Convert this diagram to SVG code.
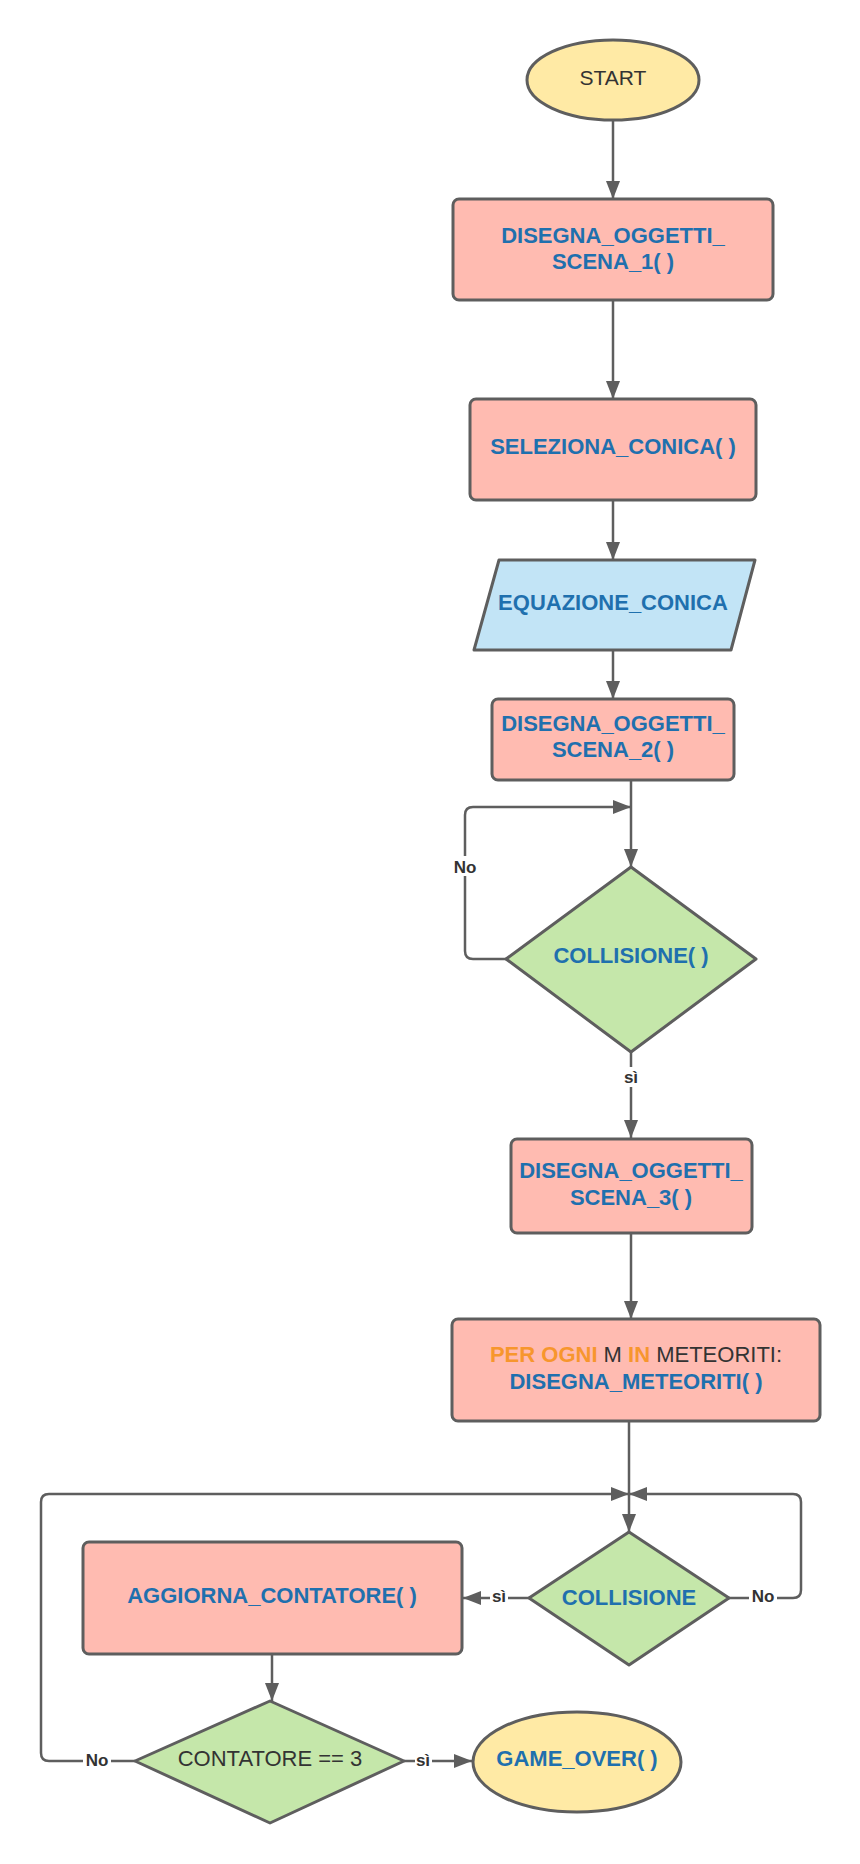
<svg xmlns="http://www.w3.org/2000/svg" width="860" height="1864" viewBox="0 0 860 1864">
<defs>
<style>
.shape{stroke:#5e5e5e;stroke-width:3;stroke-linejoin:round}
.pink{fill:#ffbbb1}
.yellow{fill:#ffeaa5}
.green{fill:#c5e7aa}
.blue{fill:#c2e4f6}
.t{font-family:"Liberation Sans",Arial,sans-serif;font-size:22px;text-anchor:middle}
.b{font-weight:bold;fill:#1f70ae}
.d{fill:#333333}
.o{font-weight:bold;fill:#f7962d}
.conn path{fill:none;stroke:#5e5e5e;stroke-width:2.5}
.lbl{font-family:"Liberation Sans",Arial,sans-serif;font-size:17px;font-weight:bold;fill:#333333;text-anchor:middle}
.lb{fill:#ffffff}
</style>
<marker id="ah" markerUnits="userSpaceOnUse" markerWidth="20" markerHeight="14" viewBox="0 0 20 14" refX="18" refY="7" orient="auto">
<path d="M0,0 L18,7 L0,14 Z" fill="#5e5e5e"/>
</marker>
</defs>
<rect width="860" height="1864" fill="#ffffff"/>

<g id="connectors" class="conn">
<path d="M613,120 V199" marker-end="url(#ah)"/>
<path d="M613,300 V399" marker-end="url(#ah)"/>
<path d="M613,500 V560" marker-end="url(#ah)"/>
<path d="M613,650 V699" marker-end="url(#ah)"/>
<path d="M631,780 V867" marker-end="url(#ah)"/>
<path d="M506,959 H473 Q465,959 465,951 V815 Q465,807 473,807 H631" marker-end="url(#ah)"/>
<path d="M631,1052 V1138" marker-end="url(#ah)"/>
<path d="M631,1233 V1319" marker-end="url(#ah)"/>
<path d="M629,1421 V1532" marker-end="url(#ah)"/>
<path d="M729,1598 H793 Q801,1598 801,1590 V1502 Q801,1494 793,1494 H629" marker-end="url(#ah)"/>
<path d="M529,1598 H463" marker-end="url(#ah)"/>
<path d="M272,1654 V1701" marker-end="url(#ah)"/>
<path d="M135,1761 H49 Q41,1761 41,1753 V1502 Q41,1494 49,1494 H629" marker-end="url(#ah)"/>
<path d="M404,1761 H472" marker-end="url(#ah)"/>
<g id="labels">
<rect class="lb" x="451" y="856" width="28" height="20"/>
<text class="lbl" x="465" y="873">No</text>
<rect class="lb" x="621" y="1067" width="20" height="20"/>
<text class="lbl" x="631" y="1083">sì</text>
<rect class="lb" x="749" y="1587" width="28" height="20"/>
<text class="lbl" x="763" y="1602">No</text>
<rect class="lb" x="490" y="1587" width="18" height="20"/>
<text class="lbl" x="499" y="1602">sì</text>
<rect class="lb" x="83" y="1750" width="28" height="20"/>
<text class="lbl" x="97" y="1766">No</text>
<rect class="lb" x="415" y="1750" width="17" height="20"/>
<text class="lbl" x="423" y="1766">sì</text>
</g>
</g>

<g id="start">
<ellipse class="shape yellow" cx="613" cy="80" rx="86" ry="40"/>
<text class="t d" x="613" y="85" style="font-size:21px">START</text>
</g>

<g id="disegna1">
<rect class="shape pink" x="453" y="199" width="320" height="101" rx="6"/>
<text class="t b" x="613" y="243">DISEGNA_OGGETTI_</text>
<text class="t b" x="613" y="269">SCENA_1( )</text>
</g>

<g id="seleziona">
<rect class="shape pink" x="470" y="399" width="286" height="101" rx="6"/>
<text class="t b" x="613" y="454">SELEZIONA_CONICA( )</text>
</g>

<g id="equazione">
<path class="shape blue" d="M499,560 H755 L731,650 H474 Z"/>
<text class="t b" x="613" y="610">EQUAZIONE_CONICA</text>
</g>

<g id="disegna2">
<rect class="shape pink" x="492" y="699" width="242" height="81" rx="6"/>
<text class="t b" x="613" y="731">DISEGNA_OGGETTI_</text>
<text class="t b" x="613" y="757">SCENA_2( )</text>
</g>

<g id="collisione1">
<path class="shape green" d="M631,867 L756,959 L631,1052 L506,959 Z"/>
<text class="t b" x="631" y="963">COLLISIONE( )</text>
</g>

<g id="disegna3">
<rect class="shape pink" x="511" y="1139" width="241" height="94" rx="6"/>
<text class="t b" x="631" y="1178">DISEGNA_OGGETTI_</text>
<text class="t b" x="631" y="1205">SCENA_3( )</text>
</g>

<g id="meteoriti">
<rect class="shape pink" x="452" y="1319" width="368" height="102" rx="6"/>
<text class="t d" x="636" y="1362"><tspan class="o">PER OGNI</tspan> M <tspan class="o">IN</tspan> METEORITI:</text>
<text class="t b" x="636" y="1389">DISEGNA_METEORITI( )</text>
</g>

<g id="collisione2">
<path class="shape green" d="M629,1532 L729,1598 L629,1665 L529,1598 Z"/>
<text class="t b" x="629" y="1605">COLLISIONE</text>
</g>

<g id="aggiorna">
<rect class="shape pink" x="83" y="1542" width="379" height="112" rx="6"/>
<text class="t b" x="272" y="1603">AGGIORNA_CONTATORE( )</text>
</g>

<g id="contatore">
<path class="shape green" d="M270,1701 L404,1761 L270,1823 L135,1761 Z"/>
<text class="t d" x="270" y="1766">CONTATORE == 3</text>
</g>

<g id="gameover">
<ellipse class="shape yellow" cx="577" cy="1762" rx="104" ry="50"/>
<text class="t b" x="577" y="1766">GAME_OVER( )</text>
</g>
</svg>
